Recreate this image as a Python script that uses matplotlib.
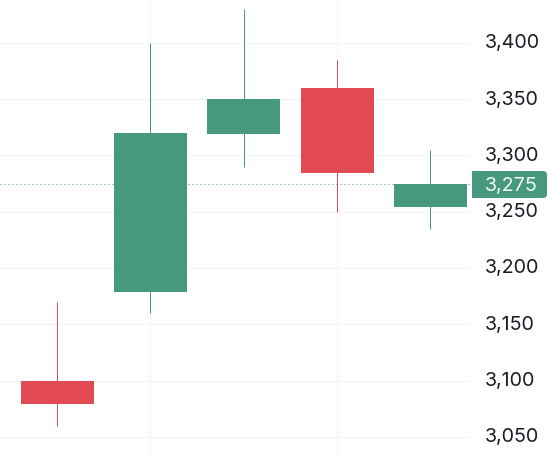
import matplotlib
matplotlib.use("Agg")
import matplotlib.pyplot as plt
from matplotlib.path import Path
from matplotlib.patches import PathPatch
from matplotlib.transforms import IdentityTransform, ScaledTranslation

plt.rcParams['font.family'] = ['Inter', 'DejaVu Sans']

# Candle data (index, open, high, low, close)
candle_index = [-1, 0, 1, 2, 3, 4]
opens  = [3083.6, 3099.6, 3178.7, 3319.0, 3359.8, 3254.1]
highs  = [3084.5, 3169.8, 3399.8, 3430.0, 3384.7, 3304.8]
lows   = [3083.6, 3059.7, 3160.0, 3289.7, 3249.7, 3234.6]
closes = [3084.5, 3079.2, 3319.9, 3350.1, 3284.4, 3274.6]
y_ticks = [3050, 3100, 3150, 3200, 3250, 3300, 3350, 3400]
v_grid = [1, 3]
last_price = 3274.6
last_label = '3,275'

GREEN = '#46997F'
RED = '#E04A50'
GRID = '#F3F3F5'
TEXT = '#1C1D27'

W, H = 554, 458
fig = plt.figure(figsize=(W / 100, H / 100), dpi=100, facecolor='white')
ax = fig.add_axes([0, 0, 471 / W, 1])
ax.set_facecolor('white')

X0, DX = 57.1, 93.3
ax.set_xlim(-X0 / DX, (471 - X0) / DX)
T0, PPU = 42.8, 1.126
ax.set_ylim(3400 - (458 - T0) / PPU, 3400 + T0 / PPU)

for s in ax.spines.values():
    s.set_visible(False)

ax.set_yticks(y_ticks)
ax.set_yticklabels([f'{v:,}' for v in y_ticks], fontsize=14.2, color=TEXT)
ax.yaxis.tick_right()
ax.tick_params(axis='y', length=0, pad=10.2)
lift = ScaledTranslation(0, 1.5 / 100, fig.dpi_scale_trans)
for lab in ax.get_yticklabels():
    lab.set_transform(lab.get_transform() + lift)
ax.set_xticks(v_grid)
ax.tick_params(axis='x', length=0, labelbottom=False)
ax.grid(True, color=GRID, linewidth=0.72, zorder=0)
ax.set_axisbelow(True)

ax.axhline(last_price, color=GREEN, linewidth=0.72, linestyle=(0, (1, 3)), zorder=1)

for i, o, h, l, c in zip(candle_index, opens, highs, lows, closes):
    col = GREEN if c >= o else RED
    ax.vlines(i, l, h, color=col, linewidth=0.72, zorder=2)
    ax.bar(i, abs(c - o), bottom=min(o, c), width=73 / DX, color=col, linewidth=0, zorder=3)

# Last price badge with rounded right corners
fig.canvas.draw()
yc = ax.transData.transform((0, last_price))[1]
x0, x1, r = 472, 547, 4
y0, y1 = H - 198, H - 171
verts = [(x0, y0), (x1 - r, y0), (x1, y0), (x1, y0 + r), (x1, y1 - r), (x1, y1), (x1 - r, y1), (x0, y1), (x0, y0)]
codes = [Path.MOVETO, Path.LINETO, Path.CURVE3, Path.CURVE3, Path.LINETO, Path.CURVE3, Path.CURVE3, Path.LINETO, Path.CLOSEPOLY]
fig.add_artist(PathPatch(Path(verts, codes), facecolor=GREEN, edgecolor='none', transform=IdentityTransform(), zorder=5))
fig.text(485 / W, (yc + 0.5) / H, last_label, color='#F4FAF7', fontsize=14.2, ha='left', va='center_baseline', zorder=6)

fig.savefig('out.png', dpi=100)
